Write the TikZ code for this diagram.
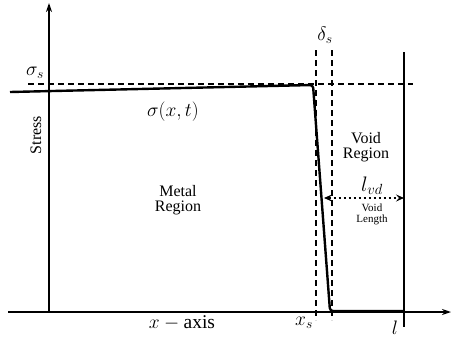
\RequirePackage{fix-cm}
\documentclass[tikz,border=0pt]{standalone}
\usepackage{fontspec}
\setmainfont{Liberation Serif}
\usetikzlibrary{arrows.meta}
\begin{document}
\begin{tikzpicture}[x=1pt,y=-1pt,
  axis/.style={line width=1.3pt},
  curve/.style={line width=2.4pt, line join=round},
  guide/.style={line width=1.2pt, dash pattern=on 6pt off 4pt},
  lbl/.style={inner sep=0pt, align=center},
  mth/.style={lbl, font=\fontsize{19.5}{19.5}\selectfont},
  txt/.style={lbl, font=\fontsize{16}{15}\selectfont}]
\useasboundingbox (0,0) rectangle (451,341);
% axes
\coordinate (o) at (49,312);
\coordinate (ytop) at (49,3);
\coordinate (xl) at (8,312);
\coordinate (xr) at (451,312);
\draw[axis,-{Stealth[length=9pt,width=6pt]}] (o) -- (ytop);
\draw[axis,-{Stealth[length=9pt,width=6pt]}] (xl) -- (xr);
% sigma_s dashed
\coordinate (ss1) at (28,84);
\coordinate (ss2) at (413,84);
\draw[guide] (ss1) -- (ss2);
% delta_s dashed verticals
\coordinate (d1t) at (316,50);
\coordinate (d1b) at (316,320);
\coordinate (d2t) at (332,50);
\coordinate (d2b) at (332,320);
\draw[guide] (d1t) -- (d1b);
\draw[guide] (d2t) -- (d2b);
% l line
\coordinate (lt) at (404,52);
\coordinate (lb) at (404,327);
\draw[line width=1.4pt] (lt) -- (lb);
% stress curve
\coordinate (c0) at (10,92);
\coordinate (c1) at (313,85);
\coordinate (c2) at (330,311);
\coordinate (c3) at (404,311);
\draw[curve, rounded corners=3pt] (c0) -- (c1) -- (c2) -- (c3);
% void length arrow
\coordinate (a1) at (324,198);
\coordinate (a2) at (404,198);
\draw[line width=1.1pt, dash pattern=on 2.5pt off 2.5pt,
  {Stealth[length=8pt,width=7pt,inset=3pt]}-{Stealth[length=8pt,width=7pt,inset=3pt]}] (a1) -- (a2);
% labels
\node[mth] (sigs) at (35,73) {$\sigma_s$};
\node[mth] (dels) at (325,35) {$\delta_s$};
\node[txt, rotate=90] (stress) at (36,135) {Stress};
\node[mth] (sigxt) at (173,112) {$\sigma(x,t)$};
\node[txt] (metal) at (178,200) {Metal\\Region};
\node[txt] (void) at (366,147) {Void\\Region};
\node[lbl, font=\fontsize{21}{21}\selectfont] (lvd) at (372,186) {$l_{vd}$};
\node[lbl, font=\fontsize{11}{11}\selectfont] (vlen) at (372,214) {Void\\Length};
\node[mth] (xax) at (182,323) {$x-\mathrm{axis}$};
\node[mth] (xs) at (304,323) {$x_s$};
\node[mth] (ll) at (395,328) {$l$};
\end{tikzpicture}
\end{document}
